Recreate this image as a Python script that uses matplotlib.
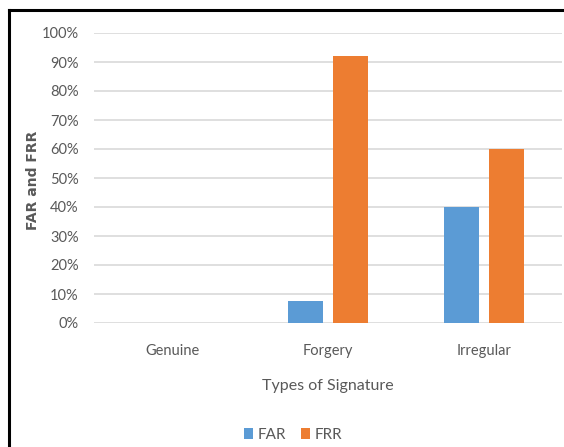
import numpy as np
import matplotlib.pyplot as plt
from matplotlib.lines import Line2D

categories = ["Genuine", "Forgery", "Irregular"]
far = [0, 7.5, 40]
frr = [0, 92, 60]
yticks = [0, 10, 20, 30, 40, 50, 60, 70, 80, 90, 100]

plt.rcParams["font.family"] = ["Lato", "DejaVu Sans"]
text_color = "#595959"

W, H = 564, 447
fig = plt.figure(figsize=(W / 100, H / 100), dpi=100)
ax = fig.add_axes([94 / W, 1 - 323 / H, (562 - 94) / W, (323 - 33) / H])

x = np.arange(len(categories))
w = 0.225
off = 0.144
ax.bar(x - off, far, w, color="#5B9BD5", label="FAR", zorder=3)
ax.bar(x + off, frr, w, color="#ED7D31", label="FRR", zorder=3)

ax.set_xlim(-0.5, 2.5)
ax.set_ylim(0, 100)
ax.set_yticks(yticks)
ax.set_yticklabels([f"{t}%" for t in yticks])
ax.set_xticks(x)
ax.set_xticklabels(categories)
ax.grid(axis="y", color="#D9D9D9", linewidth=1.2, zorder=0)
for s in ax.spines.values():
    s.set_visible(False)
ax.tick_params(axis="both", length=0, labelsize=10.5, colors=text_color)
ax.tick_params(axis="y", pad=11)
ax.tick_params(axis="x", pad=15)

ax.set_xlabel("Types of Signature", fontsize=11.5, color=text_color, labelpad=15)
fig.text(33 / W, 1 - 180 / H, "FAR and FRR", rotation=90, ha="center", va="center",
         fontsize=10, fontweight="bold", color=text_color, family="DejaVu Sans")

fig.legend(loc="center", bbox_to_anchor=(293 / W, 1 - 435 / H), ncol=2, frameon=False,
           fontsize=11, handlelength=0.6, handleheight=0.75, handletextpad=0.3,
           columnspacing=1.0, labelcolor=text_color)

# frame around the chart (top and left edges)
fig.add_artist(Line2D([8.5 / W, 1], [1 - 9.5 / H, 1 - 9.5 / H], color="black", linewidth=2.2))
fig.add_artist(Line2D([8.5 / W, 8.5 / W], [0, 1 - 9.5 / H], color="black", linewidth=2.2))

fig.savefig("out.png", dpi=100, facecolor="white")
